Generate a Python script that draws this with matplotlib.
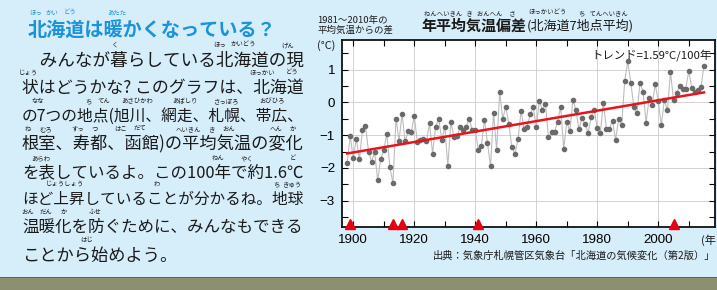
import matplotlib.pyplot as plt
import numpy as np
from matplotlib.patches import Rectangle

plt.rcParams['font.family'] = ['Noto Sans CJK JP', 'DejaVu Sans']

# 年平均気温偏差 (北海道7地点平均), 1981-2010年平均からの差 (°C)
years = list(range(1898, 2016))
anomaly = [
    -1.84, -1.03, -1.71, -1.11, -1.74, -0.85, -0.71, -1.50, -1.81, -1.51,   # 1898-1907
    -2.38, -1.72, -1.46, -0.95, -1.98, -2.46, -0.50, -1.17, -0.35, -1.19,   # 1908-1917
    -0.88, -0.90, -0.43, -1.20, -1.16, -1.11, -1.19, -0.64, -1.56, -0.74,   # 1918-1927
    -0.50, -1.15, -0.75, -1.94, -0.60, -1.05, -1.03, -0.76, -0.84, -0.75,   # 1928-1937
    -0.51, -0.84, -0.84, -1.46, -1.33, -0.53, -1.23, -1.95, -0.32, -1.46,   # 1938-1947
    0.33, -0.51, -0.13, -0.66, -1.37, -1.57, -1.13, -0.27, -0.80, -0.75,    # 1948-1957
    -0.37, -0.15, -0.75, 0.05, -0.23, -0.05, -1.07, -0.90, -0.90, -0.59,    # 1958-1967
    -0.14, -1.42, -0.60, -0.88, 0.06, -0.23, -0.82, -0.47, -0.67, -0.93,    # 1968-1977
    -0.44, -0.24, -0.79, -0.93, -0.02, -0.81, -0.81, -0.56, -1.14, -0.51,   # 1978-1987
    -0.69, 0.65, 1.25, 0.59, -0.14, -0.34, 0.59, 0.33, -0.62, 0.12,         # 1988-1997
    -0.07, 0.55, 0.04, -0.70, 0.08, -0.24, 0.92, 0.08, 0.28, 0.49,          # 1998-2007
    0.42, 0.42, 0.95, 0.44, 0.31, 0.37, 0.46, 1.12,                         # 2008-2015
]
# 観測場所の移転などがあった年 (▲)
relocation_years = [1899, 1913, 1916, 1941, 2005]

x_ticks = list(range(1900, 2001, 20))
y_ticks = [-3, -2, -1, 0, 1]

W, H = 717, 290
fig = plt.figure(figsize=(W / 100, H / 100), dpi=100)
fig.patch.set_facecolor('#d6edfa')


def ftext(x, y, s, **kw):
    # 画像のピクセル座標で文字を置く
    kw.setdefault('va', 'center')
    kw.setdefault('ha', 'left')
    return fig.text(x / W, 1 - y / H, s, **kw)


# 下の地面っぽい帯
fig.add_artist(Rectangle((0, 0), 1, 12 / H, transform=fig.transFigure,
                         facecolor='#8d9070', edgecolor='none'))
fig.add_artist(Rectangle((0, 12 / H), 1, 1.5 / H, transform=fig.transFigure,
                         facecolor='#5f6248', edgecolor='none'))

# ---- 左側の文章 ----
blue = '#1b93da'
ftext(28, 31, '北海道は暖かくなっている？', fontsize=13.8, fontweight='bold', color=blue)
for x, s in [(36, 'ほっ'), (52, 'かい'), (70, 'どう'), (117, 'あたた')]:
    ftext(x, 13, s, fontsize=4.6, color=blue, ha='center')

body = [
    '　みんなが暮らしている北海道の現',
    '状はどうかな? このグラフは、北海道',
    'の7つの地点(旭川、網走、札幌、帯広、',
    '根室、寿都、函館)の平均気温の変化',
    'を表しているよ。この100年で約1.6℃',
    'ほど上昇していることが分かるね。地球',
    '温暖化を防ぐために、みんなもできる',
    'ことから始めよう。',
]
line_y = [61, 88, 116, 144, 173, 199, 227, 256]
renderer = fig.canvas.get_renderer()
for i, (s, y) in enumerate(zip(body, line_y)):
    t = ftext(22, y, s, fontsize=12.4, color='#1a1a1a')
    if i < len(body) - 1:
        # 両端揃えの代わりに、行の幅を約282pxに合わせる
        w = t.get_window_extent(renderer).width
        t.set_fontsize(min(12.8, 12.4 * 282 / w))

ruby = [
    (115, 45, 'く'), (220, 45, 'ほっ'), (243, 45, 'かいどう'), (288, 45, 'げん'),
    (28, 73, 'じょう'), (262, 73, 'ほっかい'), (292, 73, 'どう'),
    (38, 101, 'なな'), (88, 101, 'ち'), (104, 101, 'てん'), (137, 101, 'あさひかわ'),
    (185, 101, 'あばしり'), (227, 101, 'さっぽろ'), (272, 101, 'おびひろ'),
    (28, 129, 'ね'), (46, 129, 'むろ'), (78, 129, 'すっ'), (95, 129, 'つ'),
    (121, 129, 'はこ'), (140, 129, 'だて'), (188, 129, 'へいきん'), (212, 129, 'き'),
    (229, 129, 'おん'), (276, 129, 'へん'), (293, 129, 'か'),
    (41, 158, 'あらわ'), (218, 158, 'ねん'), (247, 158, 'やく'), (293, 158, 'ど'),
    (65, 184, 'じょうしょう'), (157, 184, 'わ'), (276, 184, 'ち'), (292, 184, 'きゅう'),
    (28, 212, 'おん'), (46, 212, 'だん'), (64, 212, 'か'), (95, 212, 'ふせ'),
    (87, 240, 'はじ'),
]
for x, y, s in ruby:
    ftext(x, y, s, fontsize=4.6, color='#1a1a1a', ha='center')

# ---- グラフ ----
ax = fig.add_axes([342 / W, 1 - 227 / H, (715 - 342) / W, (227 - 40) / H])
ax.set_facecolor('white')

ax.plot(years, anomaly, color='#bdbdbd', lw=0.8, marker='o', ms=3.0,
        mfc='#6a6a6a', mec='#6a6a6a', zorder=3)

coef = np.polyfit(years, anomaly, 1)
trend_x = [years[0], years[-1]]
ax.plot(trend_x, np.polyval(coef, trend_x), color='#e8141b', lw=1.8, zorder=4)

ax.plot(relocation_years, [0.018] * len(relocation_years), ls='none', marker='^',
        ms=6.5, color='#e60012', transform=ax.get_xaxis_transform(),
        clip_on=False, zorder=5)

ax.set_xlim(1896.3, 2018.6)
ax.set_ylim(-3.8, 1.9)
ax.set_xticks(x_ticks)
ax.set_xticks(range(1900, 2020, 10), minor=True)
ax.set_yticks(y_ticks)
ax.set_yticks(np.arange(-3.5, 1.9, 0.5), minor=True)
ax.tick_params(which='both', direction='in', top=True, right=True,
               length=4, width=0.8, labelsize=9.6, pad=5)
ax.grid(which='major', color='#d2d2d2', lw=0.7)
for lab in ax.get_xticklabels() + ax.get_yticklabels():
    lab.set_fontfamily(['Liberation Sans', 'DejaVu Sans'])
for sp in ax.spines.values():
    sp.set_linewidth(1.3)
    sp.set_color('#111111')

ax.text(0.992, 0.92, 'トレンド=1.59°C/100年', transform=ax.transAxes,
        ha='right', va='center', fontsize=8.2, color='#1a1a1a')

# グラフの見出し
ftext(317, 20, '1981〜2010年の', fontsize=6.8, color='#1a1a1a')
ftext(317, 30, '平均気温からの差', fontsize=6.8, color='#1a1a1a')
ftext(317, 46, '(°C)', fontsize=7.8, color='#1a1a1a')
ftext(421, 26, '年平均気温偏差', fontsize=10.8, fontweight='bold', color='#1a1a1a')
ftext(527, 26, '(北海道7地点平均)', fontsize=9.4, color='#1a1a1a')
for x, s in [(470, 'ねんへいきん   き   おんへん     さ'), (547, 'ほっかいどう'),
             (603, 'ち   てんへいきん')]:
    ftext(x, 13, s, fontsize=4.6, color='#1a1a1a', ha='center')
ftext(701, 240, '(年', fontsize=8, color='#1a1a1a')
ftext(715, 256, '出典：気象庁札幌管区気象台「北海道の気候変化（第2版）」',
      fontsize=7.4, color='#1a1a1a', ha='right')

fig.savefig('out.png', dpi=100, facecolor=fig.get_facecolor())
